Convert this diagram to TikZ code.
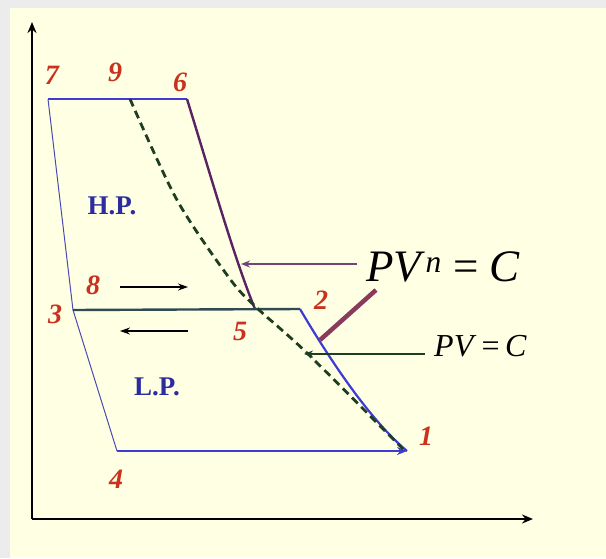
\documentclass[tikz,border=0pt]{standalone}
\usepackage{fontspec}
\setmainfont{Liberation Serif}
\usetikzlibrary{arrows.meta}
\definecolor{paper}{HTML}{FFFFE4}
\definecolor{rim}{HTML}{ECECEC}
\definecolor{numred}{HTML}{C8321E}
\definecolor{cycblue}{HTML}{3C3CD2}
\definecolor{thinblue}{HTML}{4A4AB4}
\definecolor{slate}{HTML}{2F4A52}
\definecolor{polypurple}{HTML}{5A2262}
\definecolor{isogreen}{HTML}{1E3E22}
\definecolor{mauve}{HTML}{8A3A5C}
\definecolor{hpblue}{HTML}{2C2CA0}
\tikzset{
  num/.style={text=numred,font=\fontsize{28}{32}\selectfont\bfseries\itshape},
  zone/.style={text=hpblue,font=\fontsize{27}{30}\selectfont\bfseries},
  law/.style={text=black,inner sep=0pt},
  axis/.style={line width=2.6pt,-{Stealth[length=11pt,width=9pt]}},
  flow/.style={line width=1.4pt,-{Stealth[length=10pt,width=7pt]}}
}
\begin{document}
\begin{tikzpicture}[x=1pt,y=-1pt]
  \useasboundingbox (0,0) rectangle (606,558);
  \fill[rim] (0,0) rectangle (606,558);
  \fill[paper] (10,8) rectangle (606,558);
  % axes
  \coordinate (o) at (32,519);
  \coordinate (ytip) at (32,22);
  \coordinate (xtip) at (533,519);
  \draw[axis] (o) -- (ytip);
  \draw[axis] (o) -- (xtip);
  % state points
  \coordinate (p1) at (407,451);
  \coordinate (p2) at (300,309);
  \coordinate (p3) at (73,310);
  \coordinate (p4) at (117,451);
  \coordinate (p5) at (255,309);
  \coordinate (p6) at (187,99);
  \coordinate (p7) at (48,99);
  \coordinate (p9) at (130,99);
  % cycle
  \draw[thinblue,line width=1pt] (p7) -- (p3) -- (p4);
  \draw[cycblue,line width=2.6pt] (p7) -- (p6);
  \draw[polypurple,line width=2.4pt] (p6) .. controls (215,190) and (235,260) .. (p5);
  \draw[slate,line width=2.4pt] (p3) -- (p2);
  \draw[cycblue,line width=2.2pt] (p2) .. controls (330,360) and (370,420) .. (p1);
  \draw[cycblue,line width=2.6pt,-{Stealth[length=10pt,width=8pt]}] (p4) -- (p1);
  \draw[isogreen,line width=2.8pt,dash pattern=on 8pt off 5pt]
    plot[smooth] coordinates {(130,99) (177,200) (230,279) (257,308) (307,353) (403,449)};
  % labels of the points
  \node[num] (n7) at (52,75) {7};
  \node[num] (n9) at (115,72) {9};
  \node[num] (n6) at (180,82) {6};
  \node[num] (n8) at (93,285) {8};
  \node[num] (n3) at (55,314) {3};
  \node[num] (n5) at (240,331) {5};
  \node[num] (n2) at (321,300) {2};
  \node[num] (n1) at (426,436) {1};
  \node[num] (n4) at (116,479) {4};
  \node[zone] (hp) at (112,206) {H.P.};
  \node[zone] (lp) at (157,387) {L.P.};
  % laws
  \node[law,font=\fontsize{45}{48}\selectfont,anchor=west] (pvn) at (366,267)
    {\textit{PV}\textsuperscript{\textit{n}} = \textit{C}};
  \node[law,font=\fontsize{32}{36}\selectfont,anchor=west] (pv) at (434,346)
    {\textit{PV}\,=\,\textit{C}};
  \coordinate (tpoly) at (241,264);
  \coordinate (tiso) at (304,354);
  \coordinate (mtop) at (376,290);
  \coordinate (mbot) at (320,340);
  \draw[polypurple!85,line width=1.8pt,-{Stealth[length=9pt,width=7pt]}] (357,264) -- (tpoly);
  \draw[isogreen,line width=1.8pt,-{Stealth[length=9pt,width=7pt]}] (pv.west) ++(-9,8) -- (tiso);
  \draw[mauve,line width=4.5pt] (mtop) -- (mbot);
  % flow arrows
  \coordinate (fa) at (120,287);
  \coordinate (fb) at (188,287);
  \coordinate (fc) at (188,331);
  \coordinate (fd) at (120,331);
  \draw[flow] (fa) -- (fb);
  \draw[flow] (fc) -- (fd);
\end{tikzpicture}
\end{document}
